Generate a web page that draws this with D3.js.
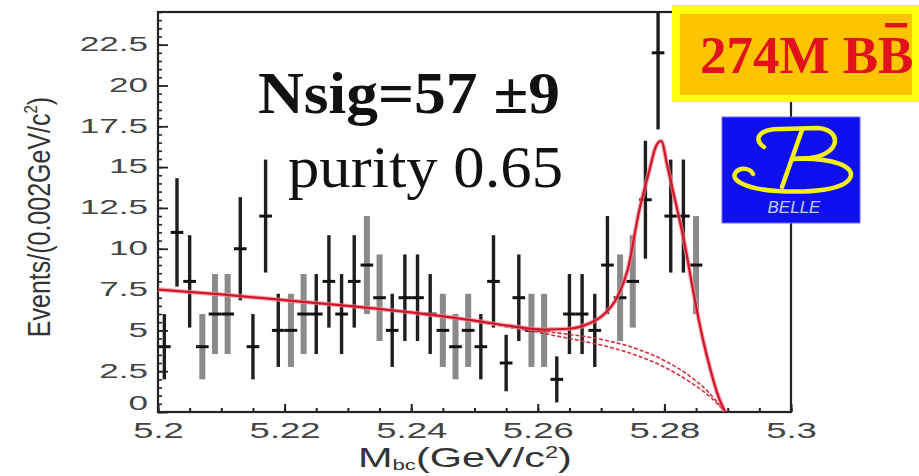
<!DOCTYPE html>
<html><head><meta charset="utf-8">
<script src="https://cdn.jsdelivr.net/npm/d3@7"></script>
<style>body{margin:0;background:#fff;} svg{display:block;}</style>
</head><body>
<svg id="c" width="919" height="476"></svg>
<script>
// ---- data ----
const mbc = [5.201,5.203,5.205,5.207,5.209,5.211,5.213,5.215,5.217,5.219,5.221,5.223,5.225,5.227,5.229,5.231,5.233,5.235,5.237,5.239,5.241,5.243,5.245,5.247,5.249,5.251,5.253,5.255,5.257,5.259,5.261,5.263,5.265,5.267,5.269,5.271,5.273,5.275,5.277,5.279,5.281,5.283,5.285];
const events = [4,11,8,4,6,6,10,4,12,5,5,6,6,8,6,8,9,7,5,7,7,6,5,4,5,4,8,3,7,5,5,2,6,6,5,9,7,8,13,22,12,12,9];
const errors = [2.0,3.32,2.83,2.0,2.45,2.45,3.16,2.0,3.46,2.24,2.24,2.45,2.45,2.83,2.45,2.83,3.0,2.65,2.24,2.65,2.65,2.45,2.24,2.0,2.24,2.0,2.83,1.73,2.65,2.24,2.24,1.41,2.45,2.45,2.24,3.0,2.65,2.83,3.61,4.69,3.46,3.46,3.0];
const fadedBins = [3,4,5,10,11,16,17,22,23,24,29,30,36,37,42];

const fitMbc   = [5.200,5.210,5.220,5.230,5.240,5.250,5.256,5.261,5.265,5.268,5.2705,5.2725,5.2742,5.2760,5.2775,5.2787,5.2795,5.2805,5.2818,5.2832,5.2846,5.2860,5.2872,5.2884,5.2896];
const fitTotal = [7.5,7.2,6.85,6.5,6.1,5.6,5.25,5.05,5.1,5.4,6.0,7.0,8.7,12.3,14.6,16.3,16.6,15.0,12.8,10.3,7.3,4.6,2.7,1.1,0];
const bgMbc = [5.250,5.255,5.260,5.265,5.270,5.275,5.280,5.284,5.287,5.2896];
const bgA   = [5.6,5.3,5.0,4.75,4.45,3.95,3.15,2.2,1.2,0];
const bgB   = [5.55,5.22,4.88,4.5,4.1,3.55,2.75,1.85,1.0,0];

const xTicks = [5.2,5.22,5.24,5.26,5.28,5.3];
const xTickLabels = ["5.2","5.22","5.24","5.26","5.28","5.3"];
const yTicks = [0,2.5,5,7.5,10,12.5,15,17.5,20,22.5];
const yTickLabels = ["0","2.5","5","7.5","10","12.5","15","17.5","20","22.5"];

const nsigText = "Nsig=57 \u00B19";
const purityText = "purity 0.65";
const sampleText = "274M BB";
const xTitle = ["M","bc","(GeV/c","2",")"];
const yTitle = ["Events/(0.002GeV/c","2",")"];

// ---- drawing ----
const svg = d3.select("#c");
const x = d3.scaleLinear().domain([5.2,5.3]).range([158,791]);
const y = d3.scaleLinear().domain([0,24.5]).range([412,12]);
const sans = "'Liberation Sans', Arial, Helvetica, sans-serif";
const serif = "'Liberation Serif', 'Times New Roman', serif";

svg.append("rect").attr("width",919).attr("height",476).attr("fill","#fff");

svg.append("defs").append("clipPath").attr("id","plot")
  .append("rect").attr("x",x(5.2)).attr("y",y(24.5)).attr("width",x(5.3)-x(5.2)).attr("height",y(0)-y(24.5));

// minor ticks
const xMinor = d3.range(0,21).map(i=>5.2+i*0.005);
const yMinor = d3.range(0,50).map(i=>i*0.5);
svg.append("g").attr("transform",`translate(0,${y(0)})`)
  .call(d3.axisBottom(x).tickValues(xMinor).tickSizeInner(-4).tickSizeOuter(0).tickFormat(""))
  .call(g=>g.select(".domain").remove())
  .call(g=>g.selectAll("line").attr("stroke","#222").attr("stroke-width",2));
svg.append("g").attr("transform",`translate(${x(5.2)},0)`)
  .call(d3.axisLeft(y).tickValues(yMinor).tickSizeInner(-4).tickSizeOuter(0).tickFormat(""))
  .call(g=>g.select(".domain").remove())
  .call(g=>g.selectAll("line").attr("stroke","#222").attr("stroke-width",1.6));

// major axes
const sxX = 1.66, sxY = 1.8;
svg.append("g").attr("transform",`translate(0,${y(0)})`)
  .call(d3.axisBottom(x).tickValues(xTicks).tickFormat((d,i)=>xTickLabels[i]).tickSizeInner(-8).tickSizeOuter(0).tickPadding(10))
  .call(g=>g.select(".domain").remove())
  .call(g=>g.selectAll("line").attr("stroke","#222").attr("stroke-width",2))
  .call(g=>g.selectAll("text").attr("font-family",sans).attr("font-size",22).attr("fill","#444")
        .attr("transform",`scale(${sxX},1)`));
svg.append("g").attr("transform",`translate(${x(5.2)},0)`)
  .call(d3.axisLeft(y).tickValues(yTicks).tickFormat((d,i)=>yTickLabels[i]).tickSizeInner(-10).tickSizeOuter(0).tickPadding(10))
  .call(g=>g.select(".domain").remove())
  .call(g=>g.selectAll("line").attr("stroke","#222").attr("stroke-width",1.8))
  .call(g=>g.selectAll("text").attr("font-family",sans).attr("font-size",19.5).attr("fill","#444")
        .attr("x",-10/sxY).attr("dy",d=>d===0?"-0.15em":"0.3em").attr("transform",`scale(${sxY},1)`));

// frame
svg.append("rect").attr("x",x(5.2)).attr("y",y(24.5)).attr("width",x(5.3)-x(5.2)).attr("height",y(0)-y(24.5))
  .attr("fill","none").attr("stroke","#222").attr("stroke-width",2.2);

// data points
const pts = mbc.map((m,i)=>({m, v:events[i], e:errors[i], faded: fadedBins.includes(i)}));
const gData = svg.append("g").attr("clip-path","url(#plot)");
gData.selectAll("rect.bar").data(pts).join("rect").attr("class","bar")
  .attr("x",d=>x(d.m)-(d.faded?3:1.7)).attr("width",d=>d.faded?6:3.4)
  .attr("y",d=>y(d.v+d.e)).attr("height",d=>y(d.v-d.e)-y(d.v+d.e))
  .attr("fill",d=>d.faded?"#8a8a8a":"#1e1e1e");
gData.selectAll("line.mk").data(pts).join("line").attr("class","mk")
  .attr("x1",d=>x(d.m-0.001)).attr("x2",d=>x(d.m+0.001))
  .attr("y1",d=>y(d.v)).attr("y2",d=>y(d.v))
  .attr("stroke","#111").attr("stroke-width",3);

// fit curves
const gFit = svg.append("g").attr("clip-path","url(#plot)");
const lineGen = d3.line().x(d=>x(d[0])).y(d=>y(d[1])).curve(d3.curveMonotoneX);
const dashA = bgMbc.map((m,i)=>[m,bgA[i]]);
const dashB = bgMbc.map((m,i)=>[m,bgB[i]]);
[dashA,dashB].forEach(c=>{
  gFit.append("path").attr("d",lineGen(c)).attr("fill","none").attr("stroke","#d4303c")
    .attr("stroke-width",1.6).attr("stroke-dasharray","4,2");
});
const total = fitMbc.map((m,i)=>[m,fitTotal[i]]);
gFit.append("path").attr("d",lineGen(total)).attr("fill","none").attr("stroke","#f08a92").attr("stroke-width",4.5).attr("opacity",0.7);
gFit.append("path").attr("d",lineGen(total)).attr("fill","none").attr("stroke","#d0152a").attr("stroke-width",2.2);

// annotations
svg.append("text").attr("x",258).attr("y",113).attr("font-family",serif).attr("font-weight","bold")
  .attr("font-size",60).attr("textLength",302).attr("lengthAdjust","spacingAndGlyphs").attr("fill","#111").text(nsigText);
svg.append("text").attr("x",288).attr("y",187).attr("font-family",serif)
  .attr("font-size",59).attr("textLength",275).attr("lengthAdjust","spacingAndGlyphs").attr("fill","#111").text(purityText);

// axis titles
const xt = svg.append("text").attr("transform",`translate(358,467) scale(1.48,1)`)
  .attr("font-family",sans).attr("font-size",28).attr("fill","#333");
xt.append("tspan").text(xTitle[0]);
xt.append("tspan").attr("font-size",15).attr("dy",3).text(xTitle[1]);
xt.append("tspan").attr("font-size",28).attr("dy",-3).text(xTitle[2]);
xt.append("tspan").attr("font-size",16).attr("dy",-9).text(xTitle[3]);
xt.append("tspan").attr("font-size",28).attr("dy",9).text(xTitle[4]);

const yt = svg.append("text").attr("transform",`translate(50,217) scale(1.28,1) rotate(-90)`)
  .attr("text-anchor","middle").attr("font-family",sans).attr("font-size",25).attr("fill","#333");
yt.append("tspan").text(yTitle[0]);
yt.append("tspan").attr("font-size",15).attr("dy",-10).text(yTitle[1]);
yt.append("tspan").attr("font-size",25).attr("dy",10).text(yTitle[2]);

// sample-size box
svg.append("rect").attr("x",672).attr("y",5).attr("width",260).attr("height",97).attr("fill","#ffff10");
svg.append("rect").attr("x",680).attr("y",14).attr("width",232).attr("height",81).attr("fill","#fdc400");
const st = svg.append("text").attr("x",700).attr("y",73).attr("font-family",serif).attr("font-weight","bold")
  .attr("font-size",53).attr("fill","#e2121c").text(sampleText);
const lastB = st.node().getExtentOfChar(sampleText.length-1);
svg.append("rect").attr("x",lastB.x+lastB.width*0.2).attr("y",23).attr("width",lastB.width*0.62).attr("height",4.5).attr("fill","#e2121c");

// Belle logo
const lg = svg.append("g").attr("transform","translate(722,117)");
lg.append("rect").attr("width",138).attr("height",106).attr("fill","#1010ee").attr("stroke","#6a6af8").attr("stroke-width",1);
const yel = "#f2f01a";
lg.append("path").attr("d","M 42 30 C 30 22, 38 11, 60 12 L 95 11 C 120 12, 120 37, 88 41 L 70 42")
  .attr("fill","none").attr("stroke",yel).attr("stroke-width",4.5).attr("stroke-linecap","round");
lg.append("path").attr("d","M 80 13 L 60 70")
  .attr("fill","none").attr("stroke",yel).attr("stroke-width",4.5).attr("stroke-linecap","round");
lg.append("path").attr("d","M 70 42 C 112 40, 134 50, 128 61 C 122 73, 88 76, 55 74 C 24 72, 7 63, 14 55 C 19 49, 29 52, 31 57")
  .attr("fill","none").attr("stroke",yel).attr("stroke-width",4.5).attr("stroke-linecap","round");
lg.append("text").attr("x",72).attr("y",96).attr("text-anchor","middle").attr("font-family",sans)
  .attr("font-style","italic").attr("font-size",17).attr("fill","#c4ccff").text("BELLE");
</script>
</body></html>
